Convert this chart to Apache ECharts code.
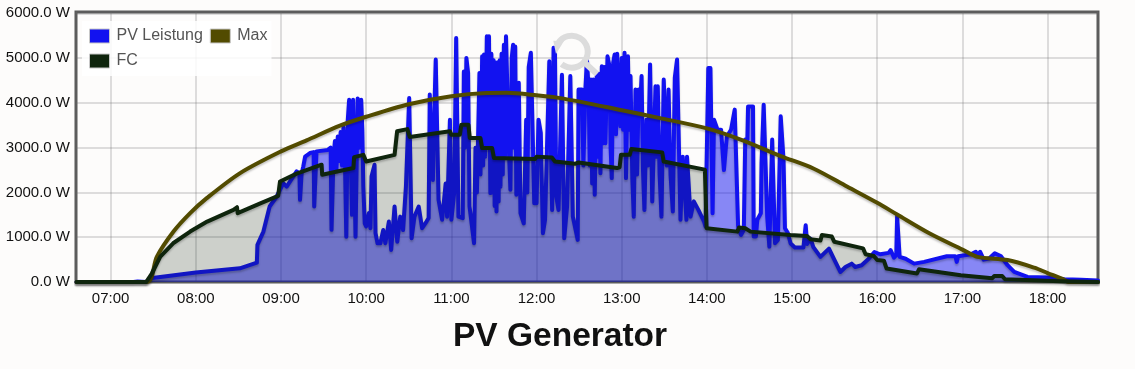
<!DOCTYPE html>
<html><head><meta charset="utf-8">
<style>html,body{margin:0;padding:0;background:#fdfcfb}#c{width:1135px;height:369px}</style>
<script src="https://cdn.jsdelivr.net/npm/echarts@6/dist/echarts.min.js"></script>
</head><body><div id="c"></div>
<script>
// every point: [minutes since midnight, watts]
const pvPoints = [[396,0],[436,0],[437,30],[439,10],[445,0],[448,82],[480,210],[511,306],[523,433],[523.4,830],[527.6,1126],[532,1686],[537,1910],[541.6,2208],[544,2130],[551,2470],[553,2420],[553.4,1835],[554.5,2420],[555.7,2580],[557,2800],[560.4,2880],[563,2900],[563.4,1686],[565,2917],[573,2950],[575,3000],[575.6,1165],[577,2800],[578,3150],[579,2500],[580,3250],[581,2700],[582,3350],[583,2600],[584,3450],[585,2800],[586,1010],[587,3600],[588,4070],[589,3000],[590,1500],[590.8,4070],[591.5,2800],[592.5,1010],[594,4100],[595,3000],[596.5,4070],[597.3,3400],[598,2130],[599,1310],[600,1240],[601.9,1540],[603,1200],[603.8,2360],[605.9,2620],[606.6,1090],[608,865],[610,865],[612,1160],[613.5,865],[616,1350],[617.6,716],[620,1686],[621.9,900],[624,1460],[626,1160],[628,2130],[630.3,4110],[631,2880],[632,977],[634,1460],[637,1686],[639.4,1200],[642.5,1350],[644,1430],[644.8,4185],[646,2800],[647,2280],[648,3800],[649,4970],[650,5005],[651,1835],[653.5,1390],[656,2200],[657,1460],[659,3625],[660,1390],[662,2000],[663.4,5450],[664,5450],[665,1460],[668,1425],[668.8,4700],[669.6,3000],[670.6,5005],[671.8,4670],[672.8,1690],[676,865],[677,3000],[678,2000],[679.8,4670],[680.5,2400],[681.7,5040],[682.4,2600],[683,5080],[683.8,2800],[685,5490],[685.7,3000],[686.5,5490],[687.5,1985],[688.2,5100],[689,2000],[689.8,4950],[690.5,1700],[691.2,4900],[691.8,1575],[692.5,4900],[693.3,1800],[694,4950],[694.6,2130],[695.4,5100],[696.2,2400],[697,5300],[697.8,2800],[698.5,5490],[699.3,5490],[700.5,3000],[701.6,2060],[702.5,5000],[703.5,5300],[704.2,3000],[705,5260],[705.8,1950],[707.5,4450],[708.7,1540],[711,1310],[712.7,3625],[713.5,2000],[714.5,4800],[716,5120],[717.4,5120],[718.4,1760],[720,1760],[721.4,3625],[723,3330],[724.5,1090],[726,1390],[729,4930],[730,4930],[731,1610],[732,5230],[733,5120],[733.9,1910],[735.5,1610],[737.9,4630],[739,4600],[739.5,977],[741.5,1686],[743.8,4600],[745,4600],[745.6,1460],[749,940],[749.6,4300],[752,4300],[753,2600],[754.4,4300],[755.5,4970],[756.7,4300],[757.5,2600],[758.3,4520],[759.2,2200],[760,4520],[761,1950],[762.4,4600],[763.2,2800],[764,4650],[765,2430],[766,4820],[767,3100],[767.8,4800],[768.5,3100],[770,5040],[771.4,4820],[772.2,3000],[773,2320],[774,4900],[775,5080],[776,3300],[776.8,5100],[778,5120],[779,3480],[780,5000],[781,3400],[782,5120],[783,2320],[784.4,5040],[785.3,3400],[786.2,4600],[787.5,2300],[788.5,1460],[789.7,4300],[790.8,2400],[792,4300],[792.7,3700],[794,4600],[795,2500],[796,1610],[797.4,3625],[798.5,2600],[800,4860],[801.5,1800],[803.8,4370],[804.6,2800],[805.4,4370],[806.7,2400],[808,1460],[809.6,4520],[810.8,4480],[811.8,2600],[813,4300],[814.4,2400],[816,1575],[817.4,4560],[819,4970],[819.7,4970],[821.4,1390],[823,2800],[825.6,1390],[826,2800],[828.5,1460],[830.8,1800],[834,1610],[838,1350],[839,1240],[841,4780],[842.5,4780],[844,1535],[845,3625],[847.5,3400],[850,3400],[852,2500],[854,3250],[857,3400],[859.6,3850],[861,3850],[862,1240],[864,1050],[866,1160],[867,3180],[868.5,3180],[869,3920],[872.5,3920],[873,1015],[874.5,1015],[875.5,1390],[878,1535],[878.5,2650],[880,3960],[881,3920],[882.5,1460],[884,790],[886,3180],[887,3180],[888,865],[890,940],[892,3700],[893,3700],[894,2730],[895,1200],[897,1100],[899,860],[902,770],[908,770],[909.6,1270],[910.6,850],[913,970],[915,780],[920,560],[926,746],[929.4,520],[934,224],[937.6,335],[942,410],[944.5,335],[949,373],[954,520],[958,670],[962,620],[968,650],[969.4,710],[971.8,545],[973.4,600],[974,1470],[974.8,1470],[975.8,560],[980,520],[986,410],[993,450],[1009,575],[1015,575],[1016,450],[1017,575],[1025.9,620],[1029.4,675],[1030.6,600],[1032.5,675],[1035,500],[1038.8,525],[1042.8,640],[1047,580],[1051.8,375],[1056.5,225],[1065.9,112],[1080,100],[1091.8,60],[1103.5,50],[1115.5,35]];

const maxPoints = [[396,0],[445.5,0],[452.6,567],[464.3,1126],[476,1537],[487.7,1872],[511.2,2432],[540,2917],[558,3163],[581.5,3491],[600,3690],[630,3970],[660,4150],[685,4220],[699,4225],[720,4170],[739,4095],[781,3830],[807,3660],[840,3430],[863.8,3180],[892,2812],[915,2536],[939,2126],[960,1768],[974,1507],[997,1082],[1020,724],[1030.6,560],[1051.8,490],[1070.6,320],[1080,200],[1091.8,50],[1095,0],[1115.5,0]];

const fcPoints = [[396,0],[445,0],[449,190],[455,567],[464,865],[476,1126],[488,1350],[506.5,1610],[509,1670],[509.5,1537],[525,1750],[538,1925],[539.3,2245],[551,2420],[568.6,2620],[569,2395],[591,2545],[591.5,2790],[598,2840],[600,2690],[620,2840],[621.8,3365],[629,3415],[630.7,3240],[659,3365],[660,3290],[666,3290],[667,3510],[672,3510],[673,3215],[680.5,3215],[681.7,2990],[688.7,2990],[690,2770],[719,2745],[720,2800],[730.8,2780],[733,2690],[747,2640],[749.6,2670],[776.7,2545],[778.5,2560],[779.5,2840],[785.6,2840],[786.8,2970],[808.5,2895],[809.6,2690],[838.6,2510],[839.8,1200],[861.5,1125],[862.6,1215],[867,1200],[870.8,1125],[898.8,1050],[910.5,1030],[913,955],[920,925],[921,1050],[928,1015],[929.7,900],[950,750],[951.8,620],[957.6,580],[960,490],[964.7,475],[966.6,300],[988,190],[989.4,285],[1018.8,150],[1041,82],[1042.4,135],[1048,135],[1050,60],[1089,15],[1115.5,0]];

const seriesNames = ['PV Leistung', 'Max', 'FC'];
const yTickStep = 1000;
const xStartMinute = 395.6, xEndMinute = 1115.5, yTop = 6030;

const base = new Date(2024, 0, 1, 0, 0, 0).getTime();
const toT = m => base + m * 60000;
const toSeries = pts => pts.map(p => [toT(p[0]), p[1]]);
const shadow = {shadowColor:'rgba(0,0,0,0.22)', shadowBlur:2, shadowOffsetY:2};
const lineOf = (name, pts, color, width, area, z, smooth) => ({
  name, type:'line', data:toSeries(pts), showSymbol:false, symbol:'none', clip:false, z, smooth:smooth||false,
  itemStyle:{color}, lineStyle:Object.assign({color, width, join:'round', cap:'round'}, shadow),
  areaStyle: area ? {color:area, opacity:1} : undefined, animation:false
});
const gridLine = {show:true, lineStyle:{color:'rgba(110,110,110,0.22)', width:2}};
const iconGrey = '#dcdcdc';

const chart = echarts.init(document.getElementById('c'), null, {renderer:'canvas'});
chart.setOption({
  backgroundColor:'#fdfcfb', animation:false,
  title:{text:'PV Generator', left:453, top:320, padding:0,
    textStyle:{fontFamily:'Liberation Sans, Arial', fontWeight:'bold', fontSize:33.5, color:'#111'}},
  grid:{left:76, right:37, top:12, bottom:87, show:true, backgroundColor:'rgba(0,0,0,0)',
    borderColor:'#585858', borderWidth:3, containLabel:false},
  legend:{data:seriesNames.map(n=>({name:n, icon:'rect'})), left:82, top:21, width:186, orient:'horizontal',
    padding:[6,4,6,7], itemWidth:20, itemHeight:14, itemGap:7, backgroundColor:'rgba(255,255,255,0.85)',
    itemStyle:{borderColor:'#c8c8c8', borderWidth:1}, lineStyle:{opacity:0},
    selectedMode:false, z:20,
    textStyle:{fontFamily:'Liberation Sans, Arial', fontSize:16, lineHeight:18, color:'#545454', padding:[0,0,0,2]}},
  xAxis:{type:'time', min:toT(xStartMinute), max:toT(xEndMinute), minInterval:3600000, maxInterval:3600000,
    axisLine:{show:false}, axisTick:{show:false}, splitLine:gridLine, minorSplitLine:{show:false},
    axisLabel:{margin:9, fontFamily:'Liberation Sans, Arial', fontSize:15, color:'#111', hideOverlap:false,
      showMinLabel:false, showMaxLabel:false,
      formatter:v=>{const d=new Date(v);return String(d.getHours()).padStart(2,'0')+':'+String(d.getMinutes()).padStart(2,'0');}}},
  yAxis:{type:'value', min:0, max:yTop, interval:yTickStep,
    axisLine:{show:false}, axisTick:{show:false}, splitLine:gridLine,
    axisLabel:{margin:6, padding:[2,0,0,0], fontFamily:'Liberation Sans, Arial', fontSize:15, color:'#111',
      formatter:v=>v%yTickStep===0 ? v.toFixed(1)+' W' : ''}},
  series:[
    lineOf(seriesNames[0], pvPoints, '#1212f0', 4, 'rgba(18,18,240,0.5)', 2),
    lineOf(seriesNames[1], maxPoints, '#524b00', 4, null, 3, 0.3),
    lineOf(seriesNames[2], fcPoints, '#0f250d', 4, 'rgba(15,37,13,0.2)', 4)
  ],
  graphic:[
    {type:'arc', z:100, silent:true, shape:{cx:571.7, cy:51.7, r:16, startAngle:-2.6, endAngle:2.25, clockwise:true},
     style:{stroke:iconGrey, lineWidth:6, fill:null}},
    {type:'polygon', z:100, silent:true, shape:{points:[[553.3,40.7],[564,41],[556,54]]}, style:{fill:iconGrey}},
    {type:'line', z:100, silent:true, shape:{x1:585,y1:63,x2:597,y2:74}, style:{stroke:iconGrey, lineWidth:6}}
  ]
});
</script></body></html>
